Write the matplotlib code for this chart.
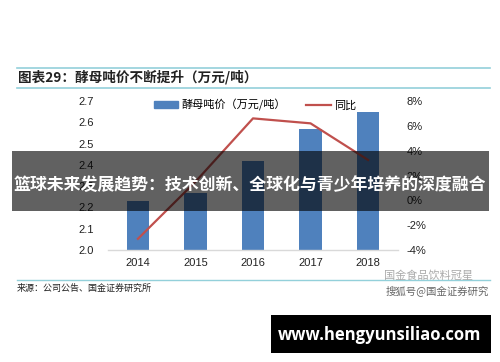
import matplotlib.pyplot as plt
from matplotlib.patches import Patch, Rectangle
from matplotlib.lines import Line2D

# dados
years = ["2014", "2015", "2016", "2017", "2018"]
price = [2.23, 2.27, 2.42, 2.57, 2.65]   # 万元/吨
yoy = [-3.1, 1.5, 6.6, 6.2, 3.25]        # %
left_ticks = [2.0, 2.1, 2.2, 2.3, 2.4, 2.5, 2.6, 2.7]
right_ticks = [-4, -2, 0, 2, 4, 6, 8]

cjk = ["Noto Sans CJK SC", "DejaVu Sans"]
num = ["Liberation Sans", "DejaVu Sans"]
blue = "#4F81BD"
red = "#C0504D"
teal = "#93D0DA"

fig = plt.figure(figsize=(5.0, 3.62), dpi=100)
W, H = 500, 362

def fx(px):
    return px / W

def fy(py):
    return 1 - py / H

ax = fig.add_axes([fx(108), fy(250), fx(398) - fx(108), fy(101) - fy(250)])
x = list(range(len(years)))
ax.bar(x, price, width=0.39, color=blue, zorder=2)
ax.set_xlim(-0.52, 4.52)
ax.set_ylim(2.0, 2.7)
ax.set_yticks(left_ticks)
ax.set_yticklabels([f"{v:.1f}" for v in left_ticks], family=num, fontsize=8, color="#222222")
ax.set_xticks(x)
ax.set_xticklabels(years, family=num, fontsize=8, color="#222222")
ax.tick_params(axis="y", length=0, pad=10)
ax.tick_params(axis="x", length=0, pad=6)
for s in ["top", "left", "right"]:
    ax.spines[s].set_visible(False)
ax.spines["bottom"].set_color("#D9D9D9")
ax.spines["bottom"].set_linewidth(1.0)

ax2 = ax.twinx()
ax2.plot(x, yoy, color=red, linewidth=1.6, zorder=3)
ax2.set_ylim(-4, 8)
ax2.set_yticks(right_ticks)
ax2.set_yticklabels([f"{v}%" for v in right_ticks], family=num, fontsize=8, color="#222222")
ax2.tick_params(axis="y", length=0, pad=6)
for s in ["top", "left", "right", "bottom"]:
    ax2.spines[s].set_visible(False)

# legenda
handles = [Patch(color=blue), Line2D([0], [0], color=red, linewidth=1.6)]
fig.legend(handles, ["酵母吨价（万元/吨）", "同比"], loc="center",
           bbox_to_anchor=(fx(255), fy(105)), ncol=2, frameon=False,
           prop={"family": cjk, "size": 8}, handlelength=2.2, handleheight=0.5,
           handletextpad=0.3, columnspacing=1.8)

# título e linhas
fig.add_artist(Line2D([fx(17), fx(490)], [fy(67.5), fy(67.5)], color=teal, linewidth=1.2))
fig.add_artist(Line2D([fx(17), fx(490)], [fy(87.5), fy(87.5)], color=teal, linewidth=1.2))
fig.text(fx(18), fy(77.5), "图表29：酵母吨价不断提升（万元/吨）", family=cjk, fontsize=9.8,
         fontweight="bold", color="#222222", va="center", ha="left")

# fonte
fig.add_artist(Line2D([fx(17), fx(490)], [fy(279.5), fy(279.5)], color=teal, linewidth=1.0))
fig.text(fx(17), fy(288), "来源：公司公告、国金证券研究所", family=cjk, fontsize=6.5,
         color="#222222", va="center", ha="left")

# marca d'água
fig.text(fx(384), fy(276), "国金食品饮料冠星", family=cjk, fontsize=8,
         color="#AAAAAA", va="center", ha="left")
fig.text(fx(489), fy(291), "搜狐号@国金证券研究", family=cjk, fontsize=7.5,
         color="#666666", va="center", ha="right")

# faixa sobreposta
fig.add_artist(Rectangle((fx(12), fy(210.5)), fx(489) - fx(12), fy(151) - fy(210.5),
                         transform=fig.transFigure, facecolor="black", alpha=0.62,
                         edgecolor="none", zorder=5))
fig.text(fx(250), fy(185), "篮球未来发展趋势：技术创新、全球化与青少年培养的深度融合",
         family=cjk, fontsize=12.2, fontweight="bold", color="white",
         va="center", ha="center", zorder=6)

# caixa inferior
fig.add_artist(Rectangle((fx(271), fy(352.5)), fx(491) - fx(271), fy(315) - fy(352.5),
                         transform=fig.transFigure, facecolor="black",
                         edgecolor="none", zorder=5))
fig.text(fx(380), fy(335), "www.hengyunsiliao.com", family=["Open Sans", "DejaVu Sans"],
         fontsize=12, fontweight="bold", color="white", va="center", ha="center", zorder=6)

fig.savefig("out.png", dpi=100)
